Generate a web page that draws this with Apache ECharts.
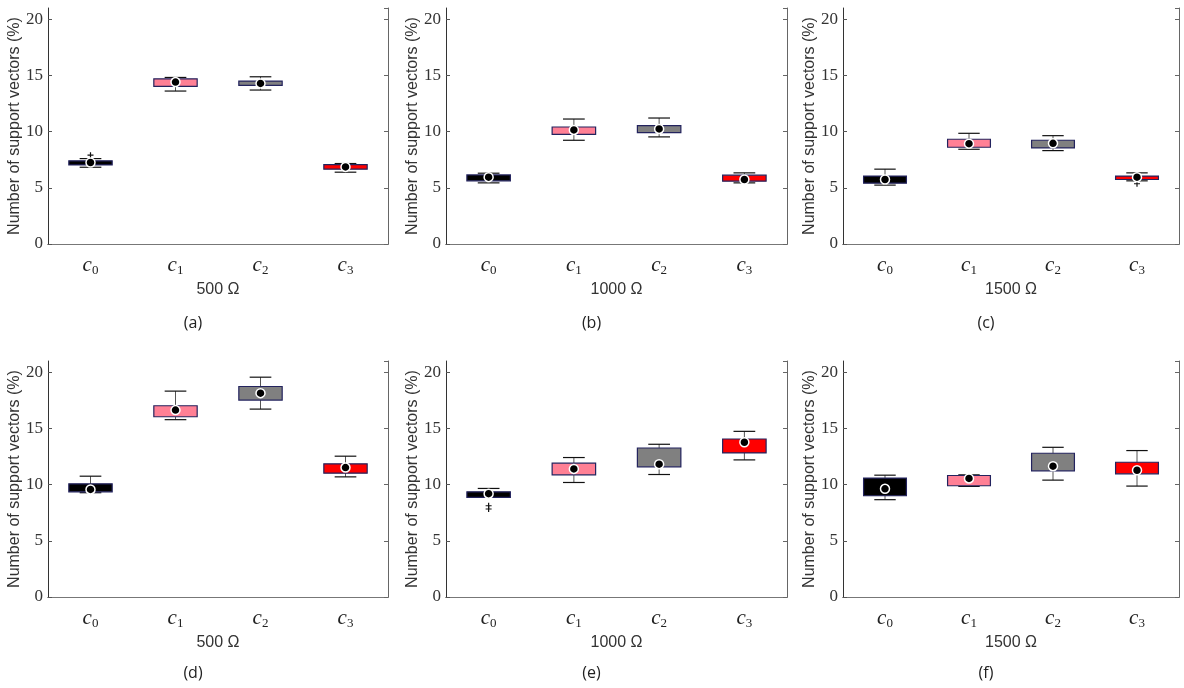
<!DOCTYPE html>
<html>
<head>
<meta charset="UTF-8">
<title>support vectors</title>
<style>html,body{margin:0;padding:0;background:#fff;} #charts{width:1184px;height:688px;}</style>
</head>
<body>
<div id="charts"></div>
<script src="https://cdn.jsdelivr.net/npm/echarts@6/dist/echarts.min.js"></script>
<script>
// categories and panel labels
var categories = ['c0', 'c1', 'c2', 'c3'];
var resistances = ['500 Ω', '1000 Ω', '1500 Ω', '500 Ω', '1000 Ω', '1500 Ω'];
var captions = ['(a)', '(b)', '(c)', '(d)', '(e)', '(f)'];
var boxColors = ['#000000', '#ff8095', '#808080', '#ff0000'];

// per panel: [whisker low, q1, q3, whisker high] for c0..c3
var boxA = [[6.83, 7.04, 7.40, 7.60], [13.61, 14.02, 14.70, 14.82], [13.70, 14.11, 14.50, 14.88], [6.39, 6.66, 7.07, 7.16]];
var boxB = [[5.44, 5.62, 6.15, 6.30], [9.23, 9.76, 10.41, 11.12], [9.53, 9.91, 10.53, 11.21], [5.44, 5.59, 6.12, 6.33]];
var boxC = [[5.24, 5.41, 6.04, 6.66], [8.43, 8.61, 9.32, 9.85], [8.31, 8.55, 9.23, 9.64], [5.62, 5.74, 6.04, 6.33]];
var boxD = [[9.28, 9.36, 10.07, 10.75], [15.78, 16.04, 17.02, 18.32], [16.72, 17.52, 18.73, 19.56], [10.69, 11.02, 11.85, 12.53]];
var boxE = [[8.86, 8.86, 9.36, 9.66], [10.19, 10.87, 11.91, 12.41], [10.90, 11.58, 13.26, 13.59], [12.20, 12.82, 14.06, 14.74]];
var boxF = [[8.66, 9.01, 10.58, 10.84], [9.84, 9.90, 10.81, 10.87], [10.40, 11.23, 12.79, 13.32], [9.87, 10.96, 11.99, 13.03]];

// means
var meanA = [7.25, 14.41, 14.29, 6.86];
var meanB = [5.95, 10.15, 10.24, 5.74];
var meanC = [5.74, 8.93, 8.96, 5.95];
var meanD = [9.57, 16.63, 18.14, 11.52];
var meanE = [9.19, 11.40, 11.82, 13.77];
var meanF = [9.63, 10.55, 11.64, 11.28];

// outliers [category index, value]
var outA = [[0, 7.9]];
var outB = [];
var outC = [[3, 5.36]];
var outD = [];
var outE = [[0, 8.12], [0, 7.83]];
var outF = [];

var boxes = [boxA, boxB, boxC, boxD, boxE, boxF];
var means = [meanA, meanB, meanC, meanD, meanE, meanF];
var outliers = [outA, outB, outC, outD, outE, outF];

var mycharts = echarts.init(document.getElementById('charts'));

// grid rectangles (px)
var lefts = [48, 446, 843];
var widths = [340, 341, 336];
var tops = [8, 361];
var H = 236;

var grid = [], xAxis = [], yAxis = [], series = [], graphic = [];
var serif = 'Liberation Serif';

for (var i = 0; i < 6; i++) {
    var col = i % 3, row = Math.floor(i / 3);
    grid.push({left: lefts[col], top: tops[row], width: widths[col], height: H});
    // bottom axis with labels
    xAxis.push({
        type: 'category', gridIndex: i, data: categories, position: 'bottom',
        axisLine: {lineStyle: {color: '#333', width: 1}},
        axisTick: {inside: true, alignWithLabel: true, length: 4, lineStyle: {color: '#555'}},
        axisLabel: {
            margin: 10,
            formatter: function (v) { return '{c|c}{s|' + v.slice(1) + '}'; },
            rich: {
                c: {fontFamily: serif, fontStyle: 'italic', fontSize: 21, color: '#222', lineHeight: 22},
                s: {fontFamily: serif, fontSize: 13, color: '#222', lineHeight: 22, padding: [11, 0, 0, 0]}
            }
        },
        name: resistances[i], nameLocation: 'middle', nameGap: 38,
        nameTextStyle: {fontFamily: 'Liberation Sans', fontSize: 16, color: '#333'}
    });
    // top mirror axis (ticks only)
    xAxis.push({
        type: 'category', gridIndex: i, data: categories, position: 'top',
        axisLine: {lineStyle: {color: '#777', width: 1}},
        axisTick: {inside: true, alignWithLabel: true, length: 4, lineStyle: {color: '#777'}},
        axisLabel: {show: false}
    });
    yAxis.push({
        type: 'value', gridIndex: i, min: 0, max: 21, interval: 5, position: 'left',
        splitLine: {show: false},
        axisLine: {show: true, lineStyle: {color: '#333', width: 1}},
        axisTick: {show: true, inside: true, length: 4, lineStyle: {color: '#555'}},
        axisLabel: {showMaxLabel: false, margin: 5, fontFamily: serif, fontSize: 17, color: '#333'},
        name: 'Number of support vectors (%)', nameLocation: 'middle', nameGap: 25,
        nameTextStyle: {fontFamily: 'Liberation Sans', fontSize: 16, color: '#333'}
    });
    yAxis.push({
        type: 'value', gridIndex: i, min: 0, max: 21, interval: 5, position: 'right',
        splitLine: {show: false},
        axisLine: {show: true, lineStyle: {color: '#666', width: 1}},
        axisTick: {show: true, inside: true, length: 4, lineStyle: {color: '#666'}},
        axisLabel: {show: false}
    });

    var boxData = boxes[i].map(function (b, k) { return [k, b[0], b[1], b[2], b[3]]; });
    series.push({
        type: 'custom', xAxisIndex: 2 * i, yAxisIndex: 2 * i, data: boxData, z: 2,
        renderItem: function (params, api) {
            var k = api.value(0);
            var band = api.size([1, 0])[0];
            var bw = band * 0.51, cw = bw * 0.5;
            var lo = api.coord([k, api.value(1)]);
            var q1 = api.coord([k, api.value(2)]);
            var q3 = api.coord([k, api.value(3)]);
            var hi = api.coord([k, api.value(4)]);
            var x = lo[0];
            return {
                type: 'group',
                children: [
                    {type: 'line', shape: {x1: x, y1: q3[1], x2: x, y2: hi[1]}, style: {stroke: '#555', lineWidth: 1}},
                    {type: 'line', shape: {x1: x, y1: q1[1], x2: x, y2: lo[1]}, style: {stroke: '#555', lineWidth: 1}},
                    {type: 'line', shape: {x1: x - cw / 2, y1: hi[1], x2: x + cw / 2, y2: hi[1]}, style: {stroke: '#111', lineWidth: 1.2}},
                    {type: 'line', shape: {x1: x - cw / 2, y1: lo[1], x2: x + cw / 2, y2: lo[1]}, style: {stroke: '#111', lineWidth: 1.2}},
                    {type: 'rect', shape: {x: x - bw / 2, y: q3[1], width: bw, height: q1[1] - q3[1]},
                     style: {fill: boxColors[k], stroke: '#23235e', lineWidth: 1.2}}
                ]
            };
        }
    });
    series.push({
        type: 'scatter', xAxisIndex: 2 * i, yAxisIndex: 2 * i, z: 4,
        data: means[i].map(function (v, k) { return [k, v]; }),
        symbol: 'circle', symbolSize: 9,
        itemStyle: {color: '#000', borderColor: '#fff', borderWidth: 1.5, opacity: 1}
    });
    series.push({
        type: 'scatter', xAxisIndex: 2 * i, yAxisIndex: 2 * i, z: 3,
        data: outliers[i],
        symbol: 'path://M2,0H3V2H5V3H3V5H2V3H0V2H2Z', symbolSize: 6,
        itemStyle: {color: '#111', opacity: 1}
    });

    graphic.push({
        type: 'text', x: lefts[col] + widths[col] / 2 - 25, y: row === 0 ? 323 : 673,
        style: {text: captions[i], font: '16px "Open Sans"', fill: '#222', textAlign: 'center', textVerticalAlign: 'middle'}
    });
}

var option = {
    backgroundColor: '#fff',
    animation: false,
    grid: grid,
    xAxis: xAxis,
    yAxis: yAxis,
    series: series,
    graphic: graphic
};
mycharts.setOption(option);
</script>
</body>
</html>
